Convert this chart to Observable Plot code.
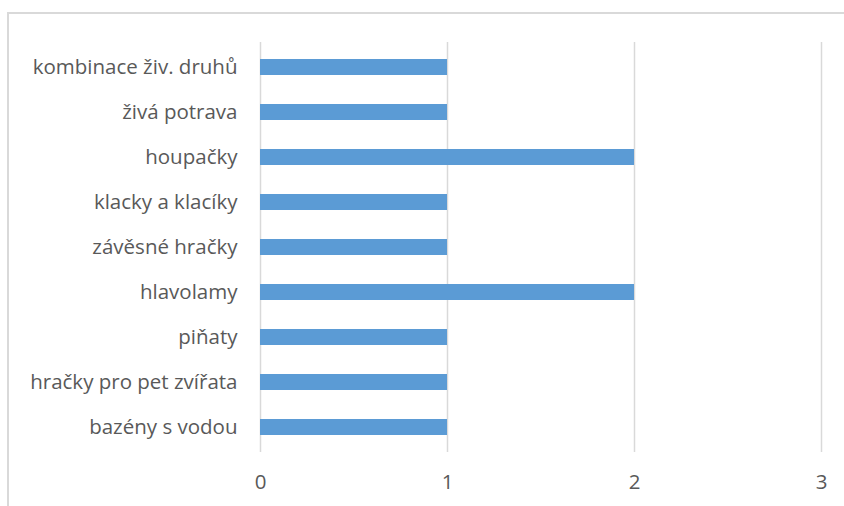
<!DOCTYPE html>
<html>
<head>
<meta charset="utf-8">
<script src="https://cdn.jsdelivr.net/npm/d3@7"></script>
<script src="https://cdn.jsdelivr.net/npm/@observablehq/plot@0.6"></script>
<style>
  html, body { margin: 0; padding: 0; background: #fff; }
  #wrap { position: relative; width: 844px; height: 506px; overflow: hidden; }
  #border { position: absolute; left: 7px; top: 12px; width: 900px; height: 600px; border: 2px solid #d9d9d9; box-sizing: border-box; pointer-events: none; }
  #chart { position: absolute; left: 0; top: 0; }
</style>
</head>
<body>
<div id="wrap"><div id="border"></div><div id="chart"></div></div>
<script>
const categories = ["kombinace živ. druhů", "živá potrava", "houpačky", "klacky a klacíky", "závěsné hračky", "hlavolamy", "piňaty", "hračky pro pet zvířata", "bazény s vodou"];
const values = [1, 1, 2, 1, 1, 2, 1, 1, 1];
const xTicks = [0, 1, 2, 3];

const data = categories.map((c, i) => ({category: c, value: values[i]}));

const chart = Plot.plot({
  width: 844,
  height: 506,
  marginLeft: 260,
  marginRight: 23,
  marginTop: 42,
  marginBottom: 54,
  style: {fontFamily: "'Open Sans', sans-serif", fontSize: "20.5px", color: "#595959", background: "transparent"},
  x: {domain: [0, 3], ticks: xTicks, tickFormat: "d", tickSize: 0, tickPadding: 22, label: null},
  y: {domain: categories, paddingInner: 0.64, paddingOuter: 0.32, tickSize: 0, tickPadding: 23, label: null},
  marks: [
    Plot.ruleX(xTicks, {stroke: "#d9d9d9", strokeWidth: 1.5}),
    Plot.barX(data, {x: "value", y: "category", fill: "#5b9bd5"})
  ]
});
document.getElementById("chart").appendChild(chart);
</script>
</body>
</html>
